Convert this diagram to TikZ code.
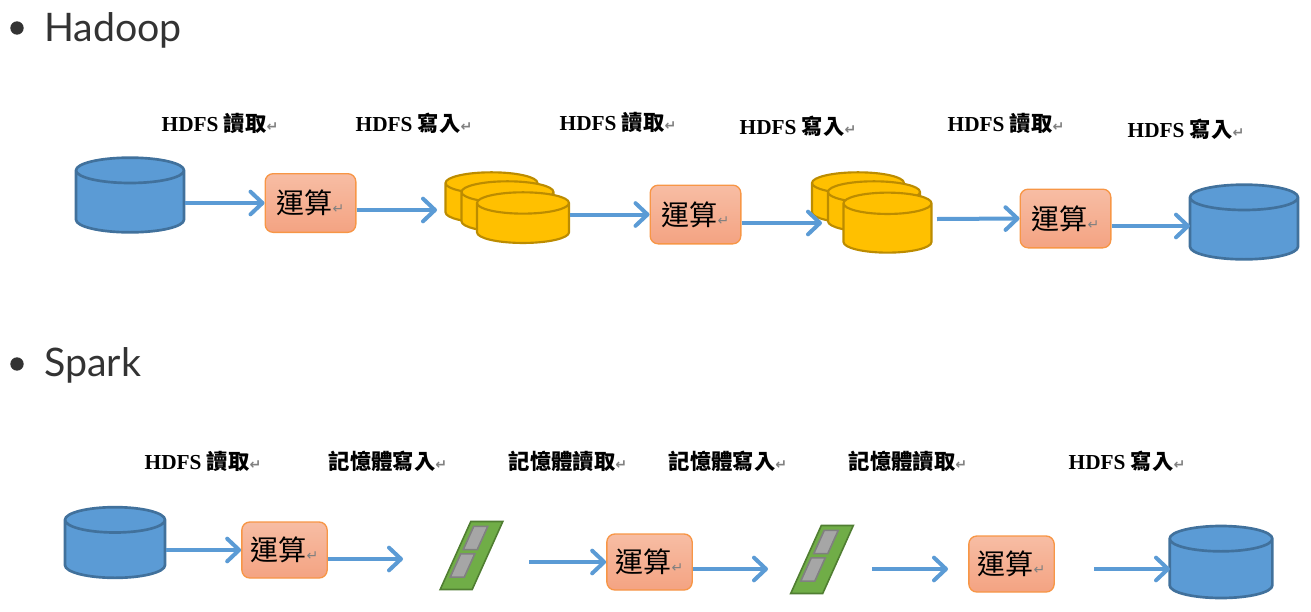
\documentclass[tikz,border=0pt]{standalone}
\usepackage{fontspec}
\setmainfont{Liberation Serif}
\newfontfamily\cjk{Noto Sans CJK TC}
\newfontfamily\lato{Lato}
\newfontfamily\dejavu{DejaVu Sans}
\usetikzlibrary{shapes.geometric, arrows.meta, positioning}
\definecolor{flowblue}{HTML}{5B9BD5}
\definecolor{dbedge}{HTML}{41719C}
\definecolor{goldedge}{HTML}{BC8C00}
\definecolor{gold}{HTML}{FFC000}
\definecolor{boxedge}{HTML}{F79646}
\definecolor{boxtop}{HTML}{F7BDA4}
\definecolor{boxbottom}{HTML}{F4A382}
\definecolor{ramgreen}{HTML}{70AD47}
\definecolor{ramedge}{HTML}{507E32}
\newcommand{\retmark}{{\dejavu\fontsize{10.5}{10.5}\selectfont\textcolor{gray}{↵}}}
\tikzset{
	dbstore/.style={cylinder, shape border rotate=90, shape aspect=3.8, draw=dbedge, fill=flowblue, line width=2pt, inner sep=0pt, minimum width=81pt, minimum height=56pt},
	filestore/.style={cylinder, shape border rotate=90, shape aspect=3.2, draw=goldedge, fill=gold, line width=1.6pt, inner sep=0pt, minimum width=69pt, minimum height=38pt},
	calcbox/.style={rectangle, rounded corners=6pt, draw=boxedge, line width=1pt, top color=boxtop, bottom color=boxbottom, minimum width=68pt, minimum height=44pt, inner sep=0pt, font=\cjk\fontsize{21}{25}\selectfont},
	ramcard/.style={rectangle, transform shape, xslant=0.45, draw=ramedge, fill=ramgreen, line width=1.2pt, inner sep=0pt, minimum width=24pt, minimum height=51pt},
	ramchip/.style={rectangle, transform shape, xslant=0.45, draw=gray, fill=gray!70, line width=1.2pt, inner sep=0pt, minimum width=10.5pt, minimum height=17.5pt},
	steptext/.style={font=\bfseries\fontsize{16}{19}\selectfont, inner sep=0pt},
	headtext/.style={font=\lato\fontsize{29.5}{35}\selectfont, text=black!80, anchor=west, inner sep=0pt},
	bulletdot/.style={circle, fill=black!80, inner sep=0pt, minimum size=10pt},
	flow/.style={flowblue, line width=3pt, -{Straight Barb[length=9pt,width=17pt,line width=3pt,round]}}
}

\begin{document}
\begin{tikzpicture}[x=0.75pt, y=-0.75pt]
	\useasboundingbox (0,0) rectangle (1311,611);

	% Headings
	\node (dot1) [bulletdot] at (17,28) {};
	\node (head1) [headtext] at (44,30) {Hadoop};
	\node (dot2) [bulletdot] at (17,364) {};
	\node (head2) [headtext] at (44,365) {Spark};

	% Hadoop labels
	\node (read1) [steptext] at (220,123) {HDFS {\cjk 讀取}\retmark};
	\node (write1) [steptext] at (414,123) {HDFS {\cjk 寫入}\retmark};
	\node (read2) [steptext] at (618,122) {HDFS {\cjk 讀取}\retmark};
	\node (write2) [steptext] at (798,126) {HDFS {\cjk 寫入}\retmark};
	\node (read3) [steptext] at (1006,123) {HDFS {\cjk 讀取}\retmark};
	\node (write3) [steptext] at (1186,129) {HDFS {\cjk 寫入}\retmark};

	% Hadoop nodes
	\node (db1) [dbstore] at (130,202) {\phantom{x}};
	\node (calc1) [calcbox] at (310.5,203) {運算\retmark};
	\node (stack1a) [filestore] at (491.5,203.5) {\phantom{x}};
	\node (stack1b) [filestore] at (507.5,212.5) {\phantom{x}};
	\node (stack1c) [filestore] at (523,223.5) {\phantom{x}};
	\node (calc2) [calcbox] at (695.5,214.5) {運算\retmark};
	\node (stack2a) [filestore] at (858,203.5) {\phantom{x}};
	\node (stack2b) [filestore] at (874,212.5) {\phantom{x}};
	\node (stack2c) [filestore, minimum width=66pt, minimum height=45pt] at (887.5,228.5) {\phantom{x}};
	\node (calc3) [calcbox] at (1065.5,218.5) {運算\retmark};
	\node (db2) [dbstore] at (1244,229) {\phantom{x}};

	% Spark labels
	\node (sread1) [steptext] at (203,461) {HDFS {\cjk 讀取}\retmark};
	\node (swrite1) [steptext] at (388,461) {\cjk 記憶體寫入\retmark};
	\node (sread2) [steptext] at (568,461) {\cjk 記憶體讀取\retmark};
	\node (swrite2) [steptext] at (728,461) {\cjk 記憶體寫入\retmark};
	\node (sread3) [steptext] at (908,461) {\cjk 記憶體讀取\retmark};
	\node (swrite3) [steptext] at (1127,461) {HDFS {\cjk 寫入}\retmark};

	% Spark nodes
	\node (db3) [dbstore, minimum width=75pt, minimum height=53pt] at (115,549.5) {\phantom{x}};
	\node (calc4) [calcbox, minimum width=64pt, minimum height=42pt] at (284.5,550) {運算\retmark};
	\node (ram1) [ramcard] at (471.5,555.5) {};
	\node (chip1a) [ramchip] at ([shift={(4,-17.5)}]ram1) {};
	\node (chip1b) [ramchip] at ([shift={(-9,10)}]ram1) {};
	\node (calc5) [calcbox, minimum width=64pt, minimum height=42pt] at (649.5,562) {運算\retmark};
	\node (ram2) [ramcard] at (822,559.5) {};
	\node (chip2a) [ramchip] at ([shift={(4,-17.5)}]ram2) {};
	\node (chip2b) [ramchip] at ([shift={(-9,10)}]ram2) {};
	\node (calc6) [calcbox, minimum width=64pt, minimum height=42pt] at (1011.5,564) {運算\retmark};
	\node (db4) [dbstore, minimum width=77pt, minimum height=54pt] at (1221,569) {\phantom{x}};

	% Free arrow ends
	\coordinate (tip1) at (437,210);
	\coordinate (tip2) at (822,223);
	\coordinate (from1) at (937,219);
	\coordinate (tip3) at (1190,226);
	\coordinate (tip4) at (403,559);
	\coordinate (from2) at (529,562);
	\coordinate (tip5) at (768,569);
	\coordinate (from3) at (872,569);
	\coordinate (tip6) at (948,569);
	\coordinate (from4) at (1094,569);
	\coordinate (tip7) at (1170,569);

	% Arrows
	\draw [flow] (db1.east |- calc1.west) -- (calc1.west);
	\draw [flow] (calc1.east |- tip1) -- (tip1);
	\draw [flow] (stack1c.east |- calc2.west) -- (calc2.west);
	\draw [flow] (calc2.east |- tip2) -- (tip2);
	\draw [flow] (from1) -- (calc3.west);
	\draw [flow] (calc3.east |- tip3) -- (tip3);
	\draw [flow] (db3.east |- calc4.west) -- (calc4.west);
	\draw [flow] (calc4.east |- tip4) -- (tip4);
	\draw [flow] (from2) -- (calc5.west);
	\draw [flow] (calc5.east |- tip5) -- (tip5);
	\draw [flow] (from3) -- (tip6);
	\draw [flow] (from4) -- (tip7);

\end{tikzpicture}
\end{document}
